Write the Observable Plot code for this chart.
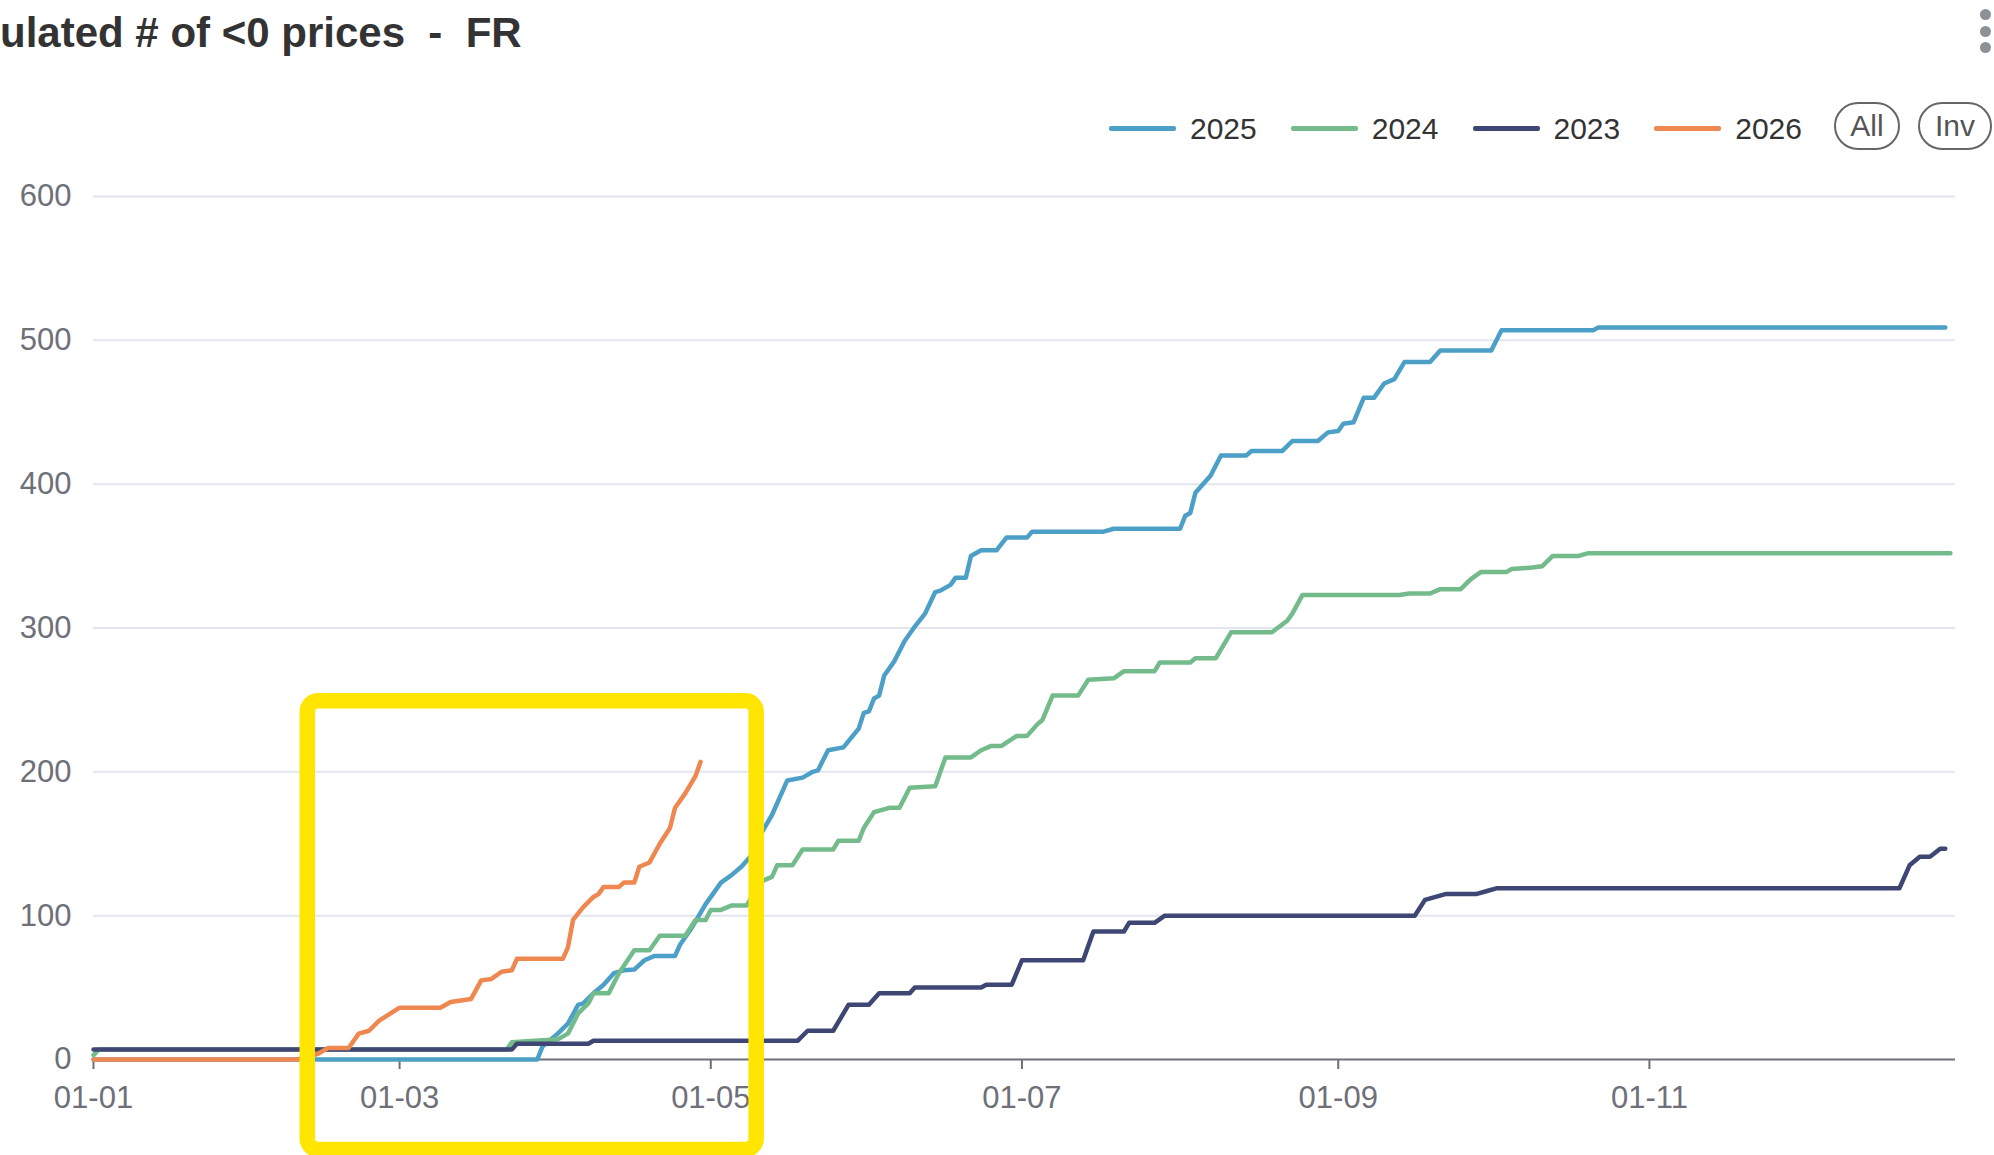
<!DOCTYPE html>
<html>
<head>
<meta charset="utf-8">
<script src="https://cdn.jsdelivr.net/npm/d3@7"></script>
<script src="https://cdn.jsdelivr.net/npm/@observablehq/plot@0.6"></script>
<style>
html, body { margin: 0; padding: 0; background: #fff; }
#wrap { position: relative; width: 1994px; height: 1155px; overflow: hidden; font-family: "Liberation Sans", Arial, sans-serif; background: #fff; }
#title { position: absolute; left: 0px; top: 12px; font-size: 42px; line-height: 42px; font-weight: bold; color: #333; white-space: pre; }
#menu { position: absolute; left: 1980px; top: 9px; }
.dot { width: 11px; height: 11px; border-radius: 50%; background: #8b9197; margin-bottom: 5.5px; }
#legend { position: absolute; left: 1109px; top: 106px; height: 45px; display: flex; align-items: center; }
.item { display: flex; align-items: center; margin-right: 34px; font-size: 30px; color: #333; }
.sw { width: 67px; height: 5px; border-radius: 2px; margin-right: 14px; }
.pill { position: absolute; top: 102px; height: 44px; border: 2px solid #666; border-radius: 24px; font-size: 30px; color: #555; display: flex; align-items: center; justify-content: center; box-sizing: content-box; }
#chart { position: absolute; left: 0; top: 160px; }
</style>
</head>
<body>
<div id="wrap">
  <div id="title"></div>
  <div id="menu"><div class="dot"></div><div class="dot"></div><div class="dot"></div></div>
  <div id="legend"></div>
  <div id="chart"></div>
</div>
<script>
// ---------- data (dates as MM-DD on a common year axis) ----------
const titleText = "ulated # of <0 prices  -  FR";
const seriesNames = ["2025", "2024", "2023", "2026"];
const seriesColors = ["#4c9fc6", "#74bb8c", "#3e4774", "#ee8750"];
const buttonLabels = ["All", "Inv"];

const yTicks = [0, 100, 200, 300, 400, 500, 600];
const xTickDates = ["01-01", "03-01", "05-01", "07-01", "09-01", "11-01"];
const xTickLabels = ["01-01", "01-03", "01-05", "01-07", "01-09", "01-11"];

const s2025 = [
  ["01-01",0],["03-28",0],["03-29",9],["04-01",18],["04-03",25],["04-05",38],["04-06",39],["04-08",46],
  ["04-10",52],["04-12",60],["04-14",62],["04-16",62.5],["04-18",69],["04-20",72],["04-24",72],["04-25",80],
  ["04-27",90],["04-30",108],["05-03",123],["05-05",128],["05-07",134],["05-09",142],["05-11",158],["05-13",170],
  ["05-16",194],["05-19",196],["05-21",200],["05-22",201],["05-24",215],["05-27",217],["05-30",230],["05-31",241],
  ["06-01",242],["06-02",251],["06-03",253],["06-04",267],["06-06",277],["06-08",291],["06-10",301],["06-12",310],
  ["06-14",325],["06-15",326],["06-17",330],["06-18",335],["06-20",335],["06-21",350],["06-23",354],["06-26",354],
  ["06-28",363],["07-02",363],["07-03",367],["07-17",367],["07-19",369],["08-01",369],["08-02",378],["08-03",380],
  ["08-04",394],["08-07",406],["08-09",420],["08-14",420],["08-15",423],["08-21",423],["08-23",430],["08-28",430],
  ["08-30",436],["09-01",437],["09-02",442],["09-04",443],["09-06",460],["09-08",460],["09-10",470],["09-12",473],
  ["09-14",485],["09-19",485],["09-21",493],["10-01",493],["10-03",507],["10-21",507],["10-22",509],["12-29",509]
];

const s2024 = [
  ["01-01",3],["01-02",7],["03-22",7],["03-23",12],["04-01",14],["04-03",18],["04-05",32],["04-07",39],
  ["04-08",46],["04-11",46],["04-13",60],["04-16",76],["04-19",76],["04-21",86],["04-26",86],["04-28",97],
  ["04-30",97],["05-01",104],["05-03",104],["05-05",107],["05-08",107],["05-11",124],["05-13",127],["05-14",135],
  ["05-17",135],["05-19",146],["05-25",146],["05-26",152],["05-30",152],["05-31",161],["06-02",172],["06-05",175],
  ["06-07",175],["06-09",189],["06-14",190],["06-16",210],["06-21",210],["06-23",215],["06-25",218],["06-27",218],
  ["06-30",225],["07-02",225],["07-04",233],["07-05",236],["07-07",253],["07-12",253],["07-14",264],["07-19",265],
  ["07-21",270],["07-27",270],["07-28",276],["08-03",276],["08-04",279],["08-08",279],["08-11",297],["08-19",297],
  ["08-22",305],["08-23",310],["08-25",323],["09-13",323],["09-15",324],["09-19",324],["09-21",327],["09-25",327],
  ["09-27",334],["09-29",339],["10-04",339],["10-05",341],["10-09",342],["10-11",343],["10-13",350],["10-18",350],
  ["10-20",352],["12-30",352]
];

const s2023 = [
  ["01-01",7],["03-23",7],["03-24",11],["04-07",11],["04-08",13],["05-18",13],["05-20",20],["05-25",20],
  ["05-28",38],["06-01",38],["06-03",46],["06-09",46],["06-10",50],["06-23",50],["06-24",52],["06-29",52],
  ["07-01",69],["07-13",69],["07-15",89],["07-21",89],["07-22",95],["07-27",95],["07-29",100],["09-16",100],
  ["09-18",111],["09-22",115],["09-28",115],["09-30",117],["10-02",119],["12-20",119],["12-22",135],["12-24",141],
  ["12-26",141],["12-28",146.5],["12-29",146.5]
];

const s2026 = [
  ["01-01",0],["02-10",0],["02-14",4],["02-16",8],["02-20",8],["02-22",18],["02-24",20],["02-26",27],
  ["03-01",36],["03-09",36],["03-11",40],["03-15",42],["03-17",55],["03-19",56],["03-21",61],["03-23",62],
  ["03-24",70],["04-02",70],["04-03",78],["04-04",97],["04-06",106],["04-08",113],["04-09",115],["04-10",120],
  ["04-13",120],["04-14",123],["04-16",123],["04-17",134],["04-19",137],["04-21",150],["04-23",161],["04-24",175],
  ["04-26",185],["04-28",197],["04-29",207]
];

// highlighted region (data space): from/to date, value range
const highlight = [{from: "02-12", to: "05-10", low: -63, high: 249}];

// ---------- build ----------
const parse = s => { const [m, d] = s.split("-").map(Number); return new Date(Date.UTC(2024, m - 1, d)); };
const labelMap = new Map(xTickDates.map((d, i) => [+parse(d), xTickLabels[i]]));
const allSeries = [s2025, s2024, s2023, s2026];

document.getElementById("title").textContent = titleText;

const legend = document.getElementById("legend");
seriesNames.forEach((name, i) => {
  const it = document.createElement("div"); it.className = "item";
  const sw = document.createElement("div"); sw.className = "sw"; sw.style.background = seriesColors[i];
  const tx = document.createElement("span"); tx.textContent = name;
  it.appendChild(sw); it.appendChild(tx); legend.appendChild(it);
});
const pillPos = [[1834, 62], [1918, 70]];
buttonLabels.forEach((b, i) => {
  const p = document.createElement("div"); p.className = "pill"; p.textContent = b;
  p.style.left = pillPos[i][0] + "px"; p.style.width = pillPos[i][1] + "px";
  document.getElementById("wrap").appendChild(p);
});

const lineMarks = allSeries.map((s, i) =>
  Plot.line(s, {x: d => parse(d[0]), y: d => d[1], stroke: seriesColors[i], strokeWidth: 4.5, curve: "linear"})
);

const chart = Plot.plot({
  width: 1994,
  height: 995,
  marginTop: 36,
  marginBottom: 96,
  marginLeft: 93,
  marginRight: 39,
  style: {fontFamily: "\"Liberation Sans\", Arial, sans-serif", fontSize: "30px", color: "#6E7079", background: "transparent", overflow: "visible"},
  x: {type: "utc", domain: [parse("01-01"), parse("12-31")], label: null},
  y: {domain: [0, 600], label: null},
  marks: [
    Plot.ruleY(yTicks.filter(v => v > 0), {stroke: "#e3e6ef", strokeWidth: 2}),
    Plot.axisY(yTicks, {tickSize: 0, tickPadding: 22, fontSize: 31}),
    Plot.ruleY([0], {stroke: "#6E7079", strokeWidth: 2}),
    Plot.axisX(xTickDates.map(parse), {tickSize: 10, tickPadding: 16, strokeWidth: 2, fontSize: 31, tickFormat: d => labelMap.get(+d)}),
    ...lineMarks,
    Plot.rect(highlight, {x1: d => parse(d.from), x2: d => parse(d.to), y1: d => d.low, y2: d => d.high,
      fill: "none", stroke: "#FFE500", strokeWidth: 15.5, rx: 11})
  ]
});
document.getElementById("chart").appendChild(chart);
</script>
</body>
</html>
